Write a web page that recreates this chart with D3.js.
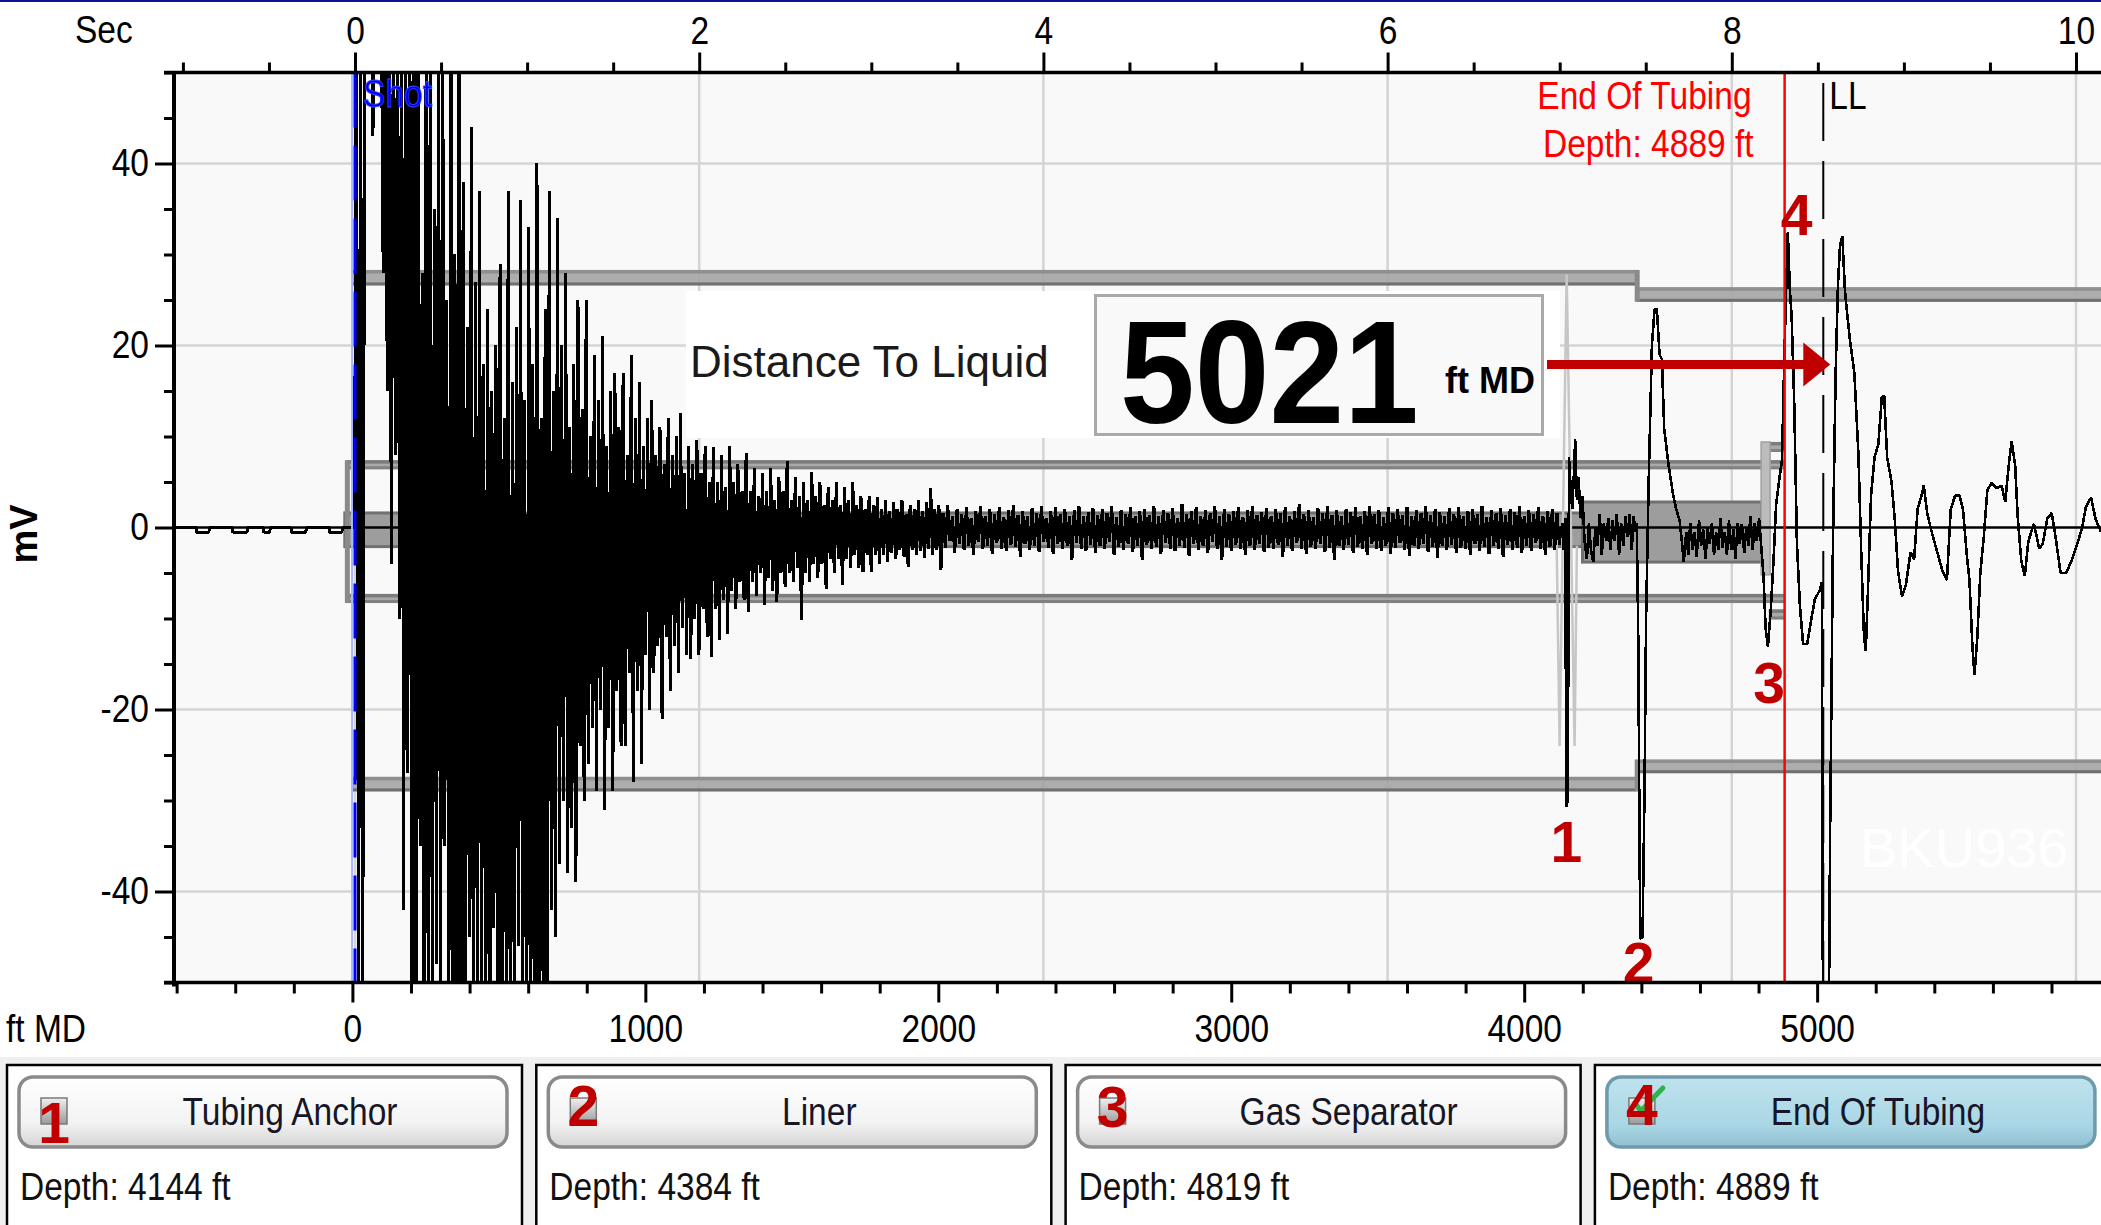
<!DOCTYPE html>
<html>
<head>
<meta charset="utf-8">
<script src="https://cdn.jsdelivr.net/npm/d3@7"></script>
<style>
  html, body { margin: 0; padding: 0; background: #ffffff; }
  svg { display: block; }
</style>
</head>
<body>
<svg id="chart" width="2101" height="1225"></svg>
<script>
// ---------------- data ----------------
const secTicks = [0, 2, 4, 6, 8, 10];
const mvTicks = [-40, -20, 0, 20, 40];
const ftTicks = [0, 1000, 2000, 3000, 4000, 5000];

const markerNames = ["Tubing Anchor", "Liner", "Gas Separator", "End Of Tubing"];
const markerDepthsFt = [4144, 4384, 4819, 4889];
const selectedMarker = 3;
const liquidLevelFt = 5021;
const watermark = "BKU936";

// trace before the shot: [ft, mV]
const preShotTrace = [[-609,0],[-534,0],[-532,-0.5],[-490,-0.5],[-488,0],[-411,0],[-409,-0.5],[-360,-0.5],
  [-358,0],[-305,0],[-303,-0.5],[-282,-0.5],[-280,0],[-210,0],[-208,-0.5],[-159,-0.5],[-157,0],[-80,0],
  [-78,-0.5],[-36,-0.5],[-34,0],[0,0]];

// shot ring-down, one sample every 7 ft from 0 ft (mV)
const ringdownStartFt = 0, ringdownStepFt = 7;
const ringdownMv = [
  0,0, 60,-60, 60,-60, 60,58, 60,60, 43,60, 60,60, 60,28, 60,15, 60,-4,
  60,8, 60,-10, 60,-42, 60,-27, 60,-60, 60,-60, 60,-35, 28,-60, 60,-60, 60,-60,
  35,-48, 60,-60, 60,-35, 25,-60, 60,-60, 30,-55, 60,-60, 38,-60, 22,-45, 44,-60,
  27,-60, 37,-52, 18,-60, 24,-60, 15,-44, 20,-60, 29,-60, 12,-50, 37,-60, 16,-60,
  22,-46, 36,-60, 14,-60, 33,-55, 18,-60, 40,-60, 12,-52, 24,-60, 37,-42, 15,-45,
  34,-37, 20,-30, 28,-38, 11,-33, 18,-39, 25,-24, 13,-30, 25,-26, 10,-22, 19,-29,
  14,-20, 21,-31, 9,-22, 15,-29, 17,-18, 11,-24, 17,-24, 8,-16, 19,-28, 12,-18,
  16,-26, 9,-14, 12,-20, 14,-16, 8,-13, 11,-21, 7,-12, 12,-18, 8,-13, 10,-16,
  12.6,-11, 6,-14, 9,-14.5, 7,-10, 9.6,-14, 6,-9, 9,-12, 5,-14.2, 8.8,-9, 5,-12.4,
  8,-8, 4.5,-11.7, 9,-7, 5,-9, 7,-6, 4,-8, 8.2,-9.3, 4,-6, 6.5,-7.5, 3.5,-5,
  6,-8.5, 4,-5.5, 6.5,-7, 3,-8.2, 5.5,-5, 4,-6.5, 7.3,-5, 3,-6, 5.5,-4.5, 3.5,-10.2,
  5,-5, 3,-6, 6.1,-4, 3.5,-5.5, 5,-4, 2.5,-6.7, 4.5,-3.5, 3,-5, 5,-3.5, 2.5,-6.3,
  4.5,-3.5, 3,-4.5, 5,-3, 2.5,-4.5, 3.5,-4.9, 2,-3, 3.5,-4.9, 2.5,-3, 3.4,-4, 2,-3,
  3,-3.8, 1.8,-2.8, 2.8,-3.5, 2,-2.5, 3,-3.2, 1.5,-4.3, 2.5,-2.5, 2,-3, 3,-2.6, 1.8,-3.3,
  2.8,-2.4, 4.3,-3, 2,-2.5, 2.5,-4.7
];

// background noise, one sample every 8 ft from 2016 ft (mV)
const noiseStartFt = 2016, noiseStepFt = 8;
const noiseMv = [
  1.6,-2.2, 2.5,-1.5, 1.2,-2.8, 2.0,-1.8, 1.5,-2.5, 2.2,-2.0, 1.0,-3.0, 1.8,-1.6, 2.4,-2.4, 1.3,-2.0,
  2.0,-2.9, 1.5,-1.7, 2.2,-2.3, 1.1,-2.6, 1.9,-1.9, 2.5,-2.1, 1.4,-3.2, 1.8,-1.8, 1.2,-2.5, 2.1,-2.0,
  1.6,-2.7, 2.3,-1.6, 1.0,-2.2, 1.8,-2.9, 2.2,-1.8, 1.5,-2.4, 2.0,-2.0, 1.3,-3.6, 1.9,-1.7, 2.4,-2.3,
  1.2,-2.6, 1.7,-1.9, 2.1,-2.8, 1.4,-2.0, 2.0,-2.4, 1.6,-1.6, 2.3,-3.0, 1.1,-2.1, 1.9,-2.5, 1.5,-1.8,
  2.2,-2.7, 1.3,-2.0, 1.8,-3.6, 2.0,-1.9, 1.4,-2.4, 2.4,-2.1, 1.2,-2.9, 1.9,-1.7, 1.6,-2.3, 2.1,-2.6,
  1.0,-2.0, 2.6,-2.2, 1.5,-3.1, 1.8,-1.8, 2.2,-2.5, 1.3,-2.0, 1.9,-2.8, 1.6,-1.6, 2.3,-2.4, 1.2,-3.6,
  2.0,-2.1, 1.5,-2.6, 1.8,-1.9, 2.2,-2.3, 1.1,-3.0, 1.9,-2.0, 2.4,-2.5, 1.4,-1.8, 1.7,-2.7, 2.1,-2.2,
  1.3,-2.4, 2.0,-1.9, 1.6,-3.2, 2.2,-2.0, 1.2,-2.6, 1.8,-1.7, 2.6,-2.3, 1.5,-2.9, 1.9,-2.1, 1.1,-2.4,
  2.1,-1.8, 1.6,-2.7, 2.3,-2.2, 1.4,-3.6, 1.9,-2.0, 1.2,-2.5, 2.0,-1.9, 1.7,-2.8, 2.2,-2.1, 1.3,-2.4,
  1.8,-3.0, 2.4,-1.8, 1.5,-2.3, 1.9,-2.6, 1.1,-2.0, 2.2,-2.9, 1.6,-2.2, 2.0,-1.7, 1.4,-2.5, 2.2,-3.1,
  1.2,-2.0, 1.9,-2.4, 1.6,-1.8, 2.3,-2.7, 1.4,-2.1, 2.0,-3.3, 1.7,-2.0, 1.2,-2.5, 2.1,-1.9, 1.5,-2.8,
  2.2,-2.2, 1.3,-2.4, 1.8,-3.0, 2.0,-1.8, 1.5,-2.6, 2.4,-2.1, 1.1,-2.9, 1.9,-2.0, 1.6,-2.4, 2.1,-3.2,
  1.4,-1.9, 2.0,-2.5, 1.7,-2.2, 2.3,-2.8, 1.2,-2.0, 1.9,-2.6, 1.5,-1.7, 2.2,-2.4, 1.3,-3.0, 1.8,-2.1,
  2.0,-2.5, 1.6,-1.9
];

// reflections from the anchor down past the liquid level: [ft, mV]
const eventTrace = [
  [4130,0.5],[4135,-2.5],[4140,1.0],[4144,-30.7],[4149,-30],[4153,7.7],[4159,4],[4164,2.0],[4170,6],[4174,9.7],
  [4180,3.0],[4186,5.5],[4192,1.0],[4199,3.5],[4206,-1.5],
  [4214,-3.5],[4221,0.5],[4228,-2.5],[4236,-3.8],[4243,0],[4250,-2],[4258,1.5],[4265,-3],[4272,0.5],[4280,-1.5],
  [4287,1],[4294,-2.5],[4302,0.8],[4309,-1.5],[4316,1.5],[4324,-3],[4331,0.5],[4338,-2],[4346,1.2],[4353,-1],
  [4360,1.5],[4367,-2.5],[4374,1.2],[4380,-0.5],
  [4384,0.5],[4389,-10.7],[4396,-45.2],[4404,-45],[4411,-28.4],[4416,-10.2],[4425,5.1],[4436,20],[4445,24],
  [4453,24],[4462,19],[4470,18.5],[4478,10.8],[4494,6.6],[4509,3.5],[4519,2.0],[4531,0.7],[4538,-1.5],
  [4545,-3.8],[4553,-0.5],[4560,-3],[4567,0.5],[4575,-2.5],[4582,-0.5],[4589,-3.2],[4597,0.8],[4604,-2],
  [4611,-0.2],[4619,-3.5],[4626,0],[4633,-1.8],[4641,0.5],[4648,-3],[4655,-0.5],[4663,-2.5],[4670,1.0],
  [4677,-2.2],[4685,-0.5],[4692,-3],[4699,0.8],[4707,-2.5],[4714,-0.2],[4721,-3.4],[4729,0.5],[4736,-1.8],
  [4743,0.4],[4751,-2.8],[4758,0],[4765,-2],[4772,1.2],[4780,-2.5],[4787,0.5],[4794,-1.5],[4802,1.0],
  [4809,-2],[4817,-5.3],[4824,-11],[4832,-13.1],[4842,-8.9],[4851,-3.7],[4860,2.5],[4870,5.1],[4880,7.4],
  [4889,20],[4900,32.5],[4907,26],[4913,23.2],[4922,13.4],[4931,-1.7],[4941,-8.5],[4952,-12.8],[4966,-12.8],
  [4978,-10.5],[4992,-7.9],[5009,-6.9],[5016,-6],
  [5020,-55],[5040,-55],[5044,-34.6],[5054,-1.6],[5063,16.7],[5071,26.6],[5078,31],[5086,32],[5095,26],
  [5102,23.7],[5112,20.6],[5127,17],[5141,8],[5151,-3.2],[5160,-12],[5166,-13.6],[5173,-7.4],[5184,3.5],
  [5196,7.7],[5209,9.2],[5221,14.4],[5229,14.4],[5239,7.7],[5254,5],[5266,0.5],[5276,-4.8],[5290,-7.6],
  [5303,-6.3],[5319,-2.7],[5331,-3.5],[5343,2],[5356,3.5],[5364,4.6],[5376,1.5],[5392,-0.6],[5410,-2.7],
  [5428,-4.8],[5443,-5.8],[5456,2],[5471,3.5],[5486,3.5],[5498,2],[5510,-2.7],[5520,-5.8],[5530,-13],
  [5537,-16.2],[5547,-12],[5557,-5],[5569,-1],[5581,4.1],[5596,4.9],[5612,4.3],[5630,4.6],[5642,2.8],
  [5654,6.8],[5664,9.5],[5676,6.8],[5685,1],[5697,-3.7],[5709,-5.3],[5721,-1.5],[5740,0.4],[5758,-2.3],
  [5770,-1.8],[5786,1],[5801,1.6],[5816,-1.5],[5831,-5],[5850,-5],[5868,-3.7],[5886,-2],[5905,0],
  [5917,2.2],[5935,3.3],[5950,1],[5969,-0.5]
];

// faint overlay trace at the anchor: [ft, mV]
const ghostTrace = [[4110,0],[4121,-24],[4145,27.8],[4172,-24],[4180,-2]];

// wellbore outline bands: [fromFt, toFt, topMv, bottomMv]
const casingBands = [[0,4384,28.3,26.6],[4384,5969,26.4,24.8],[0,4384,-27.4,-29.0],[4384,5969,-25.5,-27.0]];
const tubingBands = [[-19,4889,7.4,6.4],[-19,4889,-7.3,-8.3],[4819,4889,9.4,8.3],[4835,4889,-9.0,-10.1]];
const rodBands = [[-26,4199,1.6,-2.1],[4199,4810,2.8,-3.8]];
// vertical joints: [ft, topMv, bottomMv]
const bandJoints = [[4384,28.3,24.8],[4384,-25.5,-29.0],[-19,7.4,-8.3]];
const separatorJoint = [4819, 9.4, -5.2];

// ---------------- layout ----------------
const W = 2101, H = 1225;
const P = { left: 174, right: 2101, top: 72.5, bottom: 982.5 };
const FONT = "'Liberation Sans', Arial, Helvetica, sans-serif";
const NARROW = 0.86;           // horizontal squeeze for the condensed labels
const LABEL_SIZE = 39;

const x = d3.scaleLinear().domain([-609, 5969]).range([P.left, P.right]);      // ft MD
const xs = d3.scaleLinear().domain([-1.0518, 10.1453]).range([P.left, P.right]); // seconds
const y = d3.scaleLinear().domain([-50, 50]).range([P.bottom, P.top]);          // mV

const svg = d3.select("#chart").attr("font-family", FONT);

function narrowText(g, px, py, txt, o = {}) {
  return g.append("text")
    .attr("transform", `translate(${px},${py}) scale(${NARROW},1)`)
    .attr("text-anchor", o.anchor || "start")
    .attr("font-size", o.size || LABEL_SIZE)
    .attr("font-weight", o.weight || "normal")
    .attr("fill", o.fill || "#000")
    .text(txt);
}

// defs
const defs = svg.append("defs");
defs.append("clipPath").attr("id", "plotClip").append("rect")
  .attr("x", P.left).attr("y", P.top).attr("width", P.right - P.left).attr("height", P.bottom - P.top);
const gBtn = defs.append("linearGradient").attr("id", "btnGrad").attr("x1", 0).attr("y1", 0).attr("x2", 0).attr("y2", 1);
gBtn.append("stop").attr("offset", "0%").attr("stop-color", "#ffffff");
gBtn.append("stop").attr("offset", "65%").attr("stop-color", "#f3f3f3");
gBtn.append("stop").attr("offset", "100%").attr("stop-color", "#d4d4d4");
const gSel = defs.append("linearGradient").attr("id", "btnSel").attr("x1", 0).attr("y1", 0).attr("x2", 0).attr("y2", 1);
gSel.append("stop").attr("offset", "0%").attr("stop-color", "#bfe3ee");
gSel.append("stop").attr("offset", "70%").attr("stop-color", "#a9d6e5");
gSel.append("stop").attr("offset", "100%").attr("stop-color", "#8fbfd0");
const gChk = defs.append("linearGradient").attr("id", "chkGrad").attr("x1", 0).attr("y1", 0).attr("x2", 0).attr("y2", 1);
gChk.append("stop").attr("offset", "0%").attr("stop-color", "#f0f0f0");
gChk.append("stop").attr("offset", "100%").attr("stop-color", "#9a9a9a");

// page background + top rule
svg.append("rect").attr("width", W).attr("height", H).attr("fill", "#ffffff");
svg.append("rect").attr("x", 0).attr("y", 0).attr("width", W).attr("height", 2).attr("fill", "#10109a");

// plot area
svg.append("rect").attr("x", P.left).attr("y", P.top).attr("width", P.right - P.left)
  .attr("height", P.bottom - P.top).attr("fill", "#f9f9f9");

const plot = svg.append("g").attr("clip-path", "url(#plotClip)");

// grid
plot.selectAll(".vgrid").data(secTicks).join("line")
  .attr("x1", d => xs(d)).attr("x2", d => xs(d)).attr("y1", P.top).attr("y2", P.bottom)
  .attr("stroke", "#d4d4d4").attr("stroke-width", 2.5);
plot.selectAll(".hgrid").data(mvTicks.filter(d => d !== 0)).join("line")
  .attr("x1", P.left).attr("x2", P.right).attr("y1", d => y(d)).attr("y2", d => y(d))
  .attr("stroke", "#d4d4d4").attr("stroke-width", 2.5);

// watermark
plot.append("text").attr("x", 1860).attr("y", 867).attr("font-size", 56)
  .attr("fill", "#ffffff").text(watermark);

// wellbore outline
function drawBand(g, b, fill, topCol, botCol) {
  const x0 = x(b[0]), x1 = x(b[1]), y0 = y(b[2]), y1 = y(b[3]);
  g.append("rect").attr("x", x0).attr("y", y0).attr("width", x1 - x0).attr("height", y1 - y0)
    .attr("fill", fill).attr("fill-opacity", 0.92);
  g.append("rect").attr("x", x0).attr("y", y0).attr("width", x1 - x0).attr("height", 3.5)
    .attr("fill", topCol).attr("fill-opacity", 0.92);
  g.append("rect").attr("x", x0).attr("y", y1 - 3).attr("width", x1 - x0).attr("height", 3)
    .attr("fill", botCol).attr("fill-opacity", 0.92);
}
const gWell = plot.append("g");
casingBands.forEach(b => drawBand(gWell, b, "#a6a6a6", "#8c8c8c", "#6a6a6a"));
tubingBands.forEach(b => drawBand(gWell, b, "#a2a2a2", "#787878", "#7e7e7e"));
rodBands.forEach(b => {
  const x0 = x(b[0]), x1 = x(b[1]), y0 = y(b[2]), y1 = y(b[3]);
  gWell.append("rect").attr("x", x0).attr("y", y0).attr("width", x1 - x0).attr("height", y1 - y0)
    .attr("fill", "#9d9d9d").attr("stroke", "#717171").attr("stroke-width", 3);
});
bandJoints.forEach(j => {
  gWell.append("rect").attr("x", x(j[0]) - 2).attr("y", y(j[1])).attr("width", 5)
    .attr("height", y(j[2]) - y(j[1])).attr("fill", "#8a8a8a");
});
gWell.append("rect").attr("x", x(separatorJoint[0]) - 3).attr("y", y(separatorJoint[1])).attr("width", 9)
  .attr("height", y(separatorJoint[2]) - y(separatorJoint[1])).attr("fill", "#bcbcbc")
  .attr("stroke", "#a0a0a0").attr("stroke-width", 1.5);

// zero line
plot.append("line").attr("x1", P.left).attr("x2", P.right).attr("y1", y(0)).attr("y2", y(0))
  .attr("stroke", "#000").attr("stroke-width", 2.5);

// traces (drawn without anti-aliasing, like the acquisition display)
const line = d3.line().x(d => x(d[0])).y(d => y(d[1]));
plot.append("path").datum(ghostTrace).attr("d", line).attr("fill", "none")
  .attr("stroke", "#c6c6c6").attr("stroke-width", 2.5);

// dense part: pre-shot, ring-down and background noise
const denseTrace = [];
preShotTrace.forEach(p => denseTrace.push(p));
ringdownMv.forEach((v, i) => denseTrace.push([ringdownStartFt + i * ringdownStepFt, v]));
noiseMv.forEach((v, i) => denseTrace.push([noiseStartFt + i * noiseStepFt, v]));
plot.append("path").datum(denseTrace).attr("d", line).attr("fill", "none")
  .attr("stroke", "#000").attr("stroke-width", 3).attr("stroke-linejoin", "bevel")
  .attr("shape-rendering", "crispEdges");
// reflections
const eventPath = [denseTrace[denseTrace.length - 1]].concat(eventTrace);
plot.append("path").datum(eventPath).attr("d", line).attr("fill", "none")
  .attr("stroke", "#000").attr("stroke-width", 2.6).attr("stroke-linejoin", "bevel")
  .attr("shape-rendering", "crispEdges");

// shot marker
plot.append("line").attr("x1", xs(0) - 3).attr("x2", xs(0) - 3).attr("y1", P.top).attr("y2", P.bottom)
  .attr("stroke", "#a9b6ff").attr("stroke-width", 2);
plot.append("line").attr("x1", xs(0)).attr("x2", xs(0)).attr("y1", P.top).attr("y2", P.bottom)
  .attr("stroke", "#0000ff").attr("stroke-width", 3).attr("stroke-dasharray", "55,18");
narrowText(svg, xs(0) + 8, 107, "Shot", { fill: "#0000ff" })
  .attr("stroke", "#3c46ff").attr("stroke-width", 0.8);

// end-of-tubing marker
const eotX = x(markerDepthsFt[selectedMarker]);
plot.append("line").attr("x1", eotX).attr("x2", eotX).attr("y1", P.top).attr("y2", P.bottom)
  .attr("stroke", "#ff0000").attr("stroke-width", 2.5);
narrowText(svg, eotX - 33, 109, markerNames[selectedMarker], { anchor: "end", fill: "#ff0000" });
narrowText(svg, eotX - 31, 157, `Depth: ${markerDepthsFt[selectedMarker]} ft`, { anchor: "end", fill: "#ff0000" });

// liquid level marker
const llX = x(liquidLevelFt);
plot.append("line").attr("x1", llX).attr("x2", llX).attr("y1", 83).attr("y2", P.bottom)
  .attr("stroke", "#000").attr("stroke-width", 2).attr("stroke-dasharray", "58,20");
narrowText(svg, llX + 6, 109, "LL");

// numbered marker callouts on the trace
const calloutPos = [{ dx: 0, y: 862 }, { dx: 2, y: 983 }, { dx: 5, y: 703 }, { dx: 12, y: 235 }];
markerDepthsFt.forEach((d, i) => {
  svg.append("text").attr("x", x(d) + calloutPos[i].dx).attr("y", calloutPos[i].y)
    .attr("text-anchor", "middle").attr("font-size", 57).attr("font-weight", "bold")
    .attr("fill", "#c00000").text(i + 1);
});

// distance-to-liquid readout
svg.append("rect").attr("x", 686).attr("y", 291).attr("width", 874).attr("height", 147).attr("fill", "#ffffff");
svg.append("rect").attr("x", 1095.5).attr("y", 295.5).attr("width", 447).attr("height", 139)
  .attr("fill", "#f9f9f9").attr("stroke", "#a9a9a9").attr("stroke-width", 3);
svg.append("text").attr("x", 690).attr("y", 377).attr("font-size", 44).attr("fill", "#1a1a1a")
  .text("Distance To Liquid");
svg.append("text").attr("transform", "translate(1120,423) scale(0.92,1)")
  .attr("font-size", 146).attr("font-weight", "bold").attr("fill", "#000").text(liquidLevelFt);
svg.append("text").attr("x", 1445).attr("y", 393).attr("font-size", 36).attr("font-weight", "bold")
  .attr("fill", "#000").text("ft MD");
// arrow to the liquid level
const arrowY = 364.5, tipX = llX + 7;
svg.append("line").attr("x1", 1547).attr("x2", tipX - 24).attr("y1", arrowY).attr("y2", arrowY)
  .attr("stroke", "#c00000").attr("stroke-width", 9);
svg.append("path").attr("d", `M${tipX - 27},${arrowY - 22} L${tipX},${arrowY} L${tipX - 27},${arrowY + 22} Z`)
  .attr("fill", "#c00000");

// ---------------- axes ----------------
const plainInt = d => String(d);   // keeps an ASCII hyphen for negatives
function styleAxis(g) {
  g.select(".domain").remove();
  g.selectAll(".tick line").attr("stroke", "#000").attr("stroke-width", 3);
  g.selectAll(".tick text").attr("font-size", LABEL_SIZE).attr("font-family", FONT).attr("fill", "#000");
}
// top: seconds
const minorSec = d3.range(-2, 21).map(i => i * 0.5).filter(v => v >= -1.05 && v <= 10.14 && !secTicks.includes(v));
const gTopMinor = svg.append("g").attr("transform", `translate(0,${P.top})`)
  .call(d3.axisTop(xs).tickValues(minorSec).tickSize(10).tickFormat(""));
styleAxis(gTopMinor);
const gTop = svg.append("g").attr("transform", `translate(0,${P.top})`)
  .call(d3.axisTop(xs).tickValues(secTicks).tickSize(20).tickPadding(9).tickFormat(plainInt));
styleAxis(gTop);
gTop.selectAll(".tick text").attr("transform", `scale(${NARROW},1)`);

// bottom: ft MD
const minorFt = d3.range(-3, 30).map(i => i * 200).filter(v => v >= -609 && v <= 5969 && !ftTicks.includes(v));
const gBotMinor = svg.append("g").attr("transform", `translate(0,${P.bottom})`)
  .call(d3.axisBottom(x).tickValues(minorFt).tickSize(11).tickFormat(""));
styleAxis(gBotMinor);
const gBot = svg.append("g").attr("transform", `translate(0,${P.bottom})`)
  .call(d3.axisBottom(x).tickValues(ftTicks).tickSize(20).tickPadding(12).tickFormat(plainInt));
styleAxis(gBot);
gBot.selectAll(".tick text").attr("transform", `scale(${NARROW},1)`);

// left: mV
const minorMv = d3.range(-10, 11).map(i => i * 5).filter(v => !mvTicks.includes(v));
const gLeftMinor = svg.append("g").attr("transform", `translate(${P.left},0)`)
  .call(d3.axisLeft(y).tickValues(minorMv).tickSize(10).tickFormat(""));
styleAxis(gLeftMinor);
const gLeft = svg.append("g").attr("transform", `translate(${P.left},0)`)
  .call(d3.axisLeft(y).tickValues(mvTicks).tickSize(19).tickPadding(6).tickFormat(plainInt));
styleAxis(gLeft);
gLeft.selectAll(".tick text").attr("x", -25 / NARROW).attr("transform", `scale(${NARROW},1)`);

// axis lines
svg.append("line").attr("x1", 164).attr("x2", P.right).attr("y1", P.top).attr("y2", P.top)
  .attr("stroke", "#000").attr("stroke-width", 3.5);
svg.append("line").attr("x1", 164).attr("x2", P.right).attr("y1", P.bottom).attr("y2", P.bottom)
  .attr("stroke", "#000").attr("stroke-width", 3.5);
svg.append("line").attr("x1", P.left).attr("x2", P.left).attr("y1", P.top - 1.5).attr("y2", P.bottom + 4)
  .attr("stroke", "#000").attr("stroke-width", 4);

// axis titles
narrowText(svg, 75, 43, "Sec");
narrowText(svg, 6, 1042, "ft MD");
svg.append("text").attr("transform", `translate(37,534) rotate(-90)`).attr("text-anchor", "middle")
  .attr("font-size", 38).attr("font-weight", "bold").attr("fill", "#000").text("mV");

// ---------------- marker panels ----------------
svg.append("rect").attr("x", 0).attr("y", 1057).attr("width", W).attr("height", H - 1057).attr("fill", "#f0f0f0");
const panelStep = 529.3, panelW = 515, panelY = 1065;
const numberBaseline = [1143, 1126, 1127, 1125];
markerNames.forEach((name, i) => {
  const px = 7 + i * panelStep;
  const g = svg.append("g");
  g.append("rect").attr("x", px).attr("y", panelY).attr("width", panelW).attr("height", H - panelY + 10)
    .attr("fill", "#ffffff").attr("stroke", "#000").attr("stroke-width", 2.5);
  const sel = i === selectedMarker;
  g.append("rect").attr("x", px + 12).attr("y", 1077).attr("width", 488).attr("height", 70).attr("rx", 14)
    .attr("fill", sel ? "url(#btnSel)" : "url(#btnGrad)")
    .attr("stroke", sel ? "#6e9aab" : "#8a8a8a").attr("stroke-width", 3.5);
  g.append("rect").attr("x", px + 34).attr("y", 1098).attr("width", 26).attr("height", 26)
    .attr("fill", "url(#chkGrad)").attr("stroke", "#7a7a7a").attr("stroke-width", 1.5);
  if (sel) {
    g.append("path").attr("d", `M${px + 40},${1103} L${px + 46},${1111} L${px + 68},${1088}`)
      .attr("fill", "none").attr("stroke", "#2fb34a").attr("stroke-width", 5).attr("stroke-linecap", "round");
  }
  g.append("text").attr("x", px + 47).attr("y", numberBaseline[i]).attr("text-anchor", "middle")
    .attr("font-size", 57).attr("font-weight", "bold").attr("fill", "#c00000").text(i + 1);
  narrowText(g, px + 283, 1125, name, { anchor: "middle", fill: "#161628" });
  narrowText(g, px + 13, 1200, `Depth: ${markerDepthsFt[i]} ft`, { fill: "#111" });
});
</script>
</body>
</html>
